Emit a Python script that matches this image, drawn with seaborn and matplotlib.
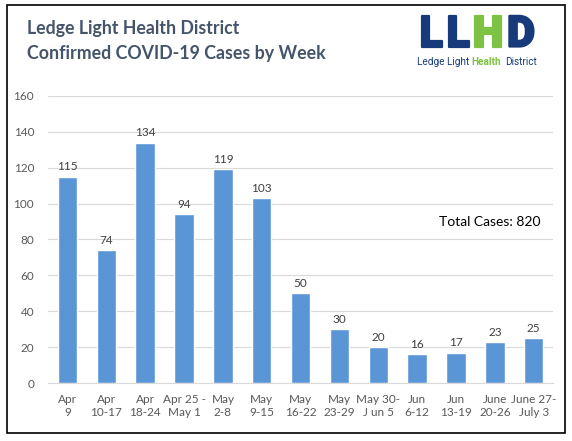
import pandas as pd
import matplotlib
matplotlib.use("Agg")
import matplotlib.pyplot as plt
import matplotlib.patheffects as pe
import seaborn as sns

# chart data
weeks = ["Apr\n9", "Apr\n10-17", "Apr\n18-24", "Apr 25 -\nMay 1", "May\n2-8",
         "May\n9-15", "May\n16-22", "May\n23-29", "May 30-\nJ un 5", "Jun\n6-12",
         "Jun\n13-19", "June\n20-26", "June 27-\nJuly 3"]
cases = [115, 74, 134, 94, 119, 103, 50, 30, 20, 16, 17, 23, 25]
y_ticks = [0, 20, 40, 60, 80, 100, 120, 140, 160]

df = pd.DataFrame({"week": weeks, "cases": cases})

sns.set_style("white")
plt.rcParams["font.family"] = ["Lato", "DejaVu Sans"]

fig = plt.figure(figsize=(5.72, 4.41), dpi=100)
ax = fig.add_axes([0.084, 0.1315, 0.883, 0.651])

sns.barplot(data=df, x="week", y="cases", color="#5a96d6", saturation=1,
            width=0.5, ax=ax, zorder=3)

for c in ax.containers:
    ax.bar_label(c, padding=3, fontsize=8.5, color="#404040")

ax.set_ylim(0, 160)
ax.set_yticks(y_ticks)
ax.yaxis.grid(True, color="#d9d9d9", linewidth=0.8, zorder=0)
ax.set_xlabel("")
ax.set_ylabel("")
ax.tick_params(axis="both", length=0, labelsize=8.5, labelcolor="#595959")
ax.tick_params(axis="y", pad=10)
ax.tick_params(axis="x", pad=8)
for s in ["top", "right", "left"]:
    ax.spines[s].set_visible(False)
ax.spines["bottom"].set_color("#d9d9d9")

ax.text(0.875, 0.561, "Total Cases: 820", transform=ax.transAxes,
        fontsize=10, color="black", ha="center", va="center")

# title
fig.text(0.047, 0.935, "Ledge Light Health District", fontsize=12.8,
         fontweight="bold", color="#44546a", va="center")
fig.text(0.047, 0.878, "Confirmed COVID-19 Cases by Week", fontsize=12.8,
         fontweight="bold", color="#44546a", va="center")

# logo (pixel positions converted to figure fractions)
navy = "#173a7a"
green = "#7dc242"
W, H = 572, 441
for letter, cx, col in [("L", 431, navy), ("L", 458, navy),
                        ("H", 488, green), ("D", 521, navy)]:
    fig.text(cx / W, 1 - 35 / H, letter, fontsize=31, fontweight="black",
             color=col, ha="center", va="center", family="Roboto",
             path_effects=[pe.withStroke(linewidth=1.6, foreground=col)])
sub_y = 1 - 62 / H
fig.text(417 / W, sub_y, "Ledge Light", fontsize=7.2, color=navy, ha="left",
         va="center", family="Roboto")
fig.text(486 / W, sub_y, "Health", fontsize=7.2, fontweight="bold", color=green,
         ha="center", va="center", family="Roboto")
fig.text(505 / W, sub_y, "District", fontsize=7.2, color=navy, ha="left",
         va="center", family="Roboto")

# outer border
border = plt.Rectangle((0.012, 0.018), 0.976, 0.971, transform=fig.transFigure,
                       fill=False, edgecolor="black", linewidth=1.2)
fig.patches.append(border)

fig.savefig("out.png", dpi=100, facecolor="white")
